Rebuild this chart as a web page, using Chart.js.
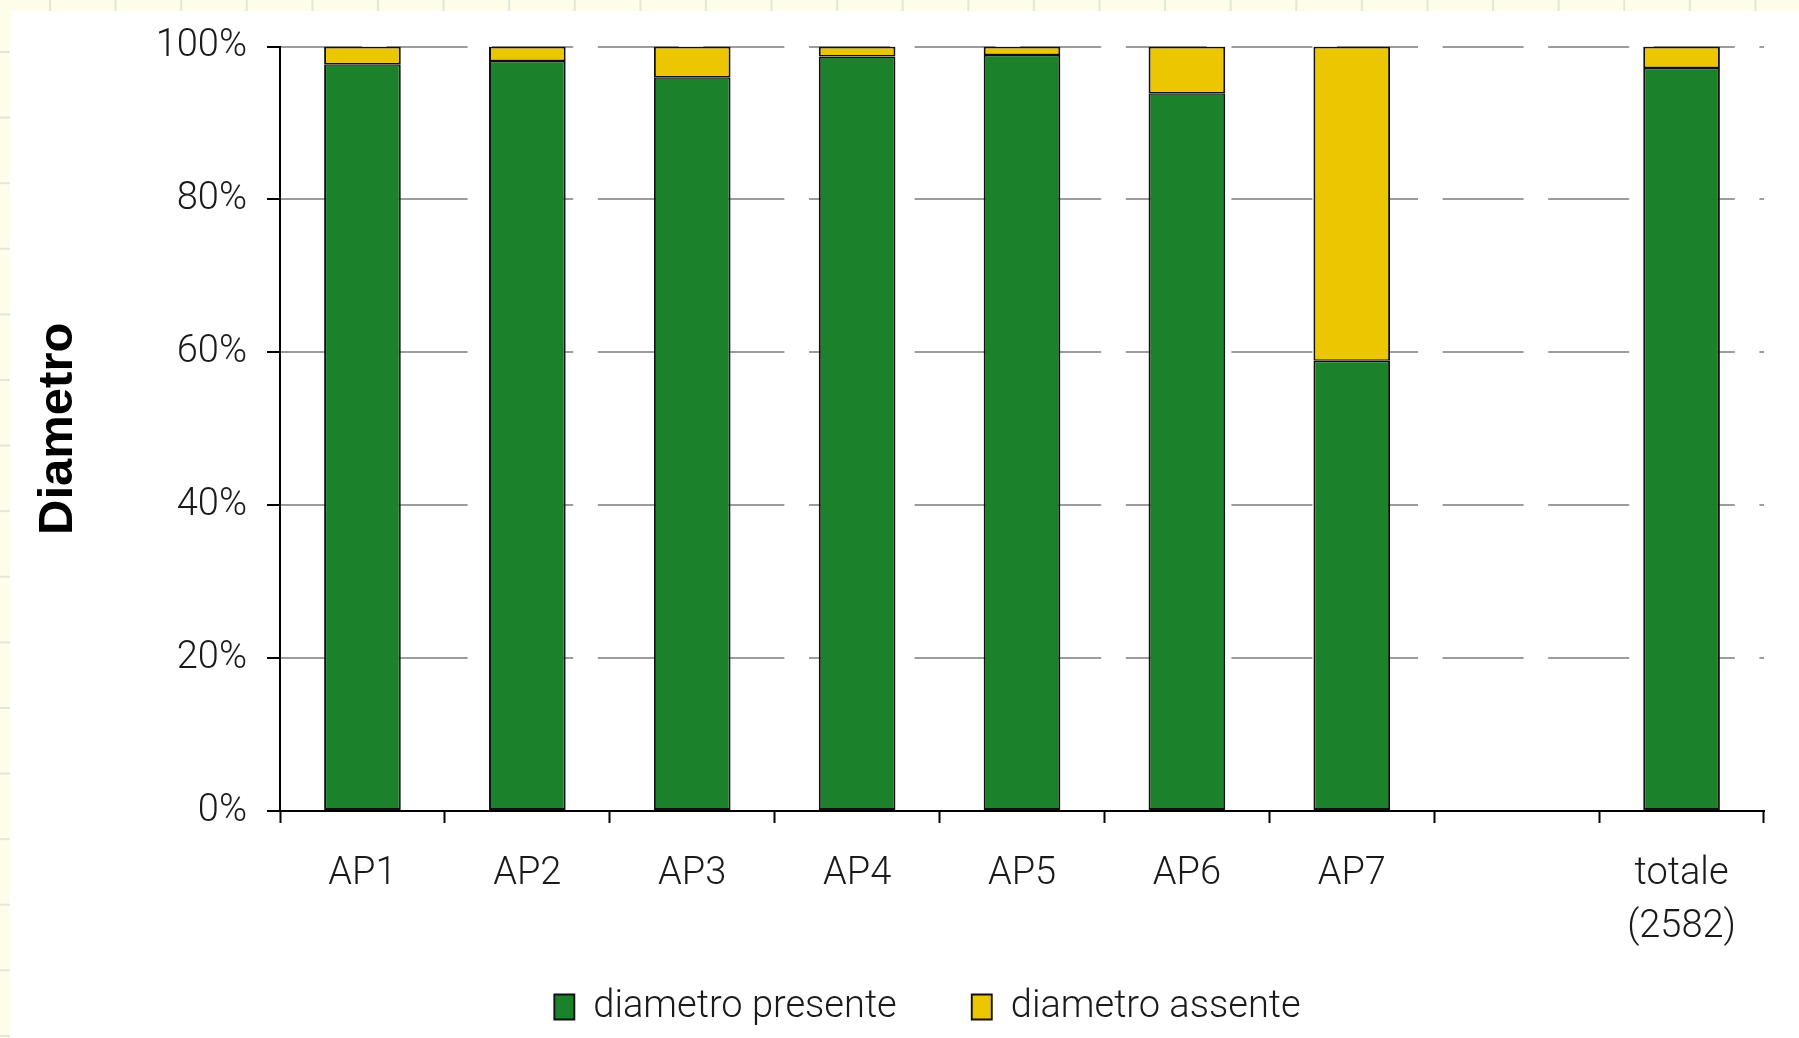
<!DOCTYPE html>
<html>
<head>
<meta charset="utf-8">
<script src="https://cdn.jsdelivr.net/npm/chart.js@4/dist/chart.umd.min.js"></script>
<style>
  html, body { margin: 0; padding: 0; }
  body {
    width: 1799px;
    height: 1038px;
    overflow: hidden;
    position: relative;
    background-color: #fdfde9;
    background-image:
      linear-gradient(to right, #e2e8d8 2px, transparent 2px),
      linear-gradient(to bottom, #e2e8d8 2px, transparent 2px);
    background-size: 65.6px 65.6px;
    background-position: 49px 51px;
  }
  #panel { position: absolute; left: 10px; top: 11px; right: 0; bottom: 0; background: #fff; }
  #chart { position: absolute; left: 0; top: 0; }
</style>
</head>
<body>
<div id="panel"></div>
<canvas id="chart" width="1799" height="1038"></canvas>
<script>
const categories = ["AP1", "AP2", "AP3", "AP4", "AP5", "AP6", "AP7", "", ["totale", "(2582)"]];
const presente = [97.7, 98.1, 96.0, 98.7, 98.9, 93.9, 58.9, null, 97.2];
const assente = [2.3, 1.9, 4.0, 1.3, 1.1, 6.1, 41.1, null, 2.8];
const seriesNames = ["diametro presente", "diametro assente"];
const axisTitle = "Diametro";

const tickFont = { family: "Roboto, 'Open Sans', sans-serif", size: 38, weight: 300, lineHeight: 1.4 };
const ink = "#1a1a1a";

// the x axis box is kept short so the legend sits close; let its labels
// spill below the box instead of being clipped
const labelRoom = {
  id: "labelRoom",
  afterLayout(chart) {
    const x = chart.scales.x;
    x.bottom = x.top + 160;
  },
};

new Chart(document.getElementById("chart"), {
  type: "bar",
  data: {
    labels: categories,
    datasets: [
      {
        label: seriesNames[0],
        data: presente,
        backgroundColor: "#1b822b",
        borderColor: "#111",
        borderWidth: { top: 1.5, bottom: 2, left: 2, right: 2 },
        borderSkipped: false,
      },
      {
        label: seriesNames[1],
        data: assente,
        backgroundColor: "#ecc600",
        borderColor: "#111",
        borderWidth: { top: 2, bottom: 1.5, left: 2, right: 2 },
        borderSkipped: false,
      },
    ],
  },
  plugins: [labelRoom],
  options: {
    responsive: false,
    animation: false,
    devicePixelRatio: 1,
    barPercentage: 0.465,
    categoryPercentage: 1,
    layout: { padding: { left: 91, right: 35, top: 45, bottom: 2 } },
    plugins: {
      tooltip: { enabled: false },
      legend: {
        position: "bottom",
        labels: {
          boxWidth: 20,
          boxHeight: 25,
          padding: 75,
          color: ink,
          font: tickFont,
        },
      },
    },
    scales: {
      x: {
        stacked: true,
        offset: true,
        grid: {
          offset: true,
          drawOnChartArea: false,
          tickLength: 12,
          tickColor: "#000",
          tickWidth: 2,
        },
        border: { color: "#000", width: 2 },
        ticks: { color: ink, font: tickFont, padding: 25, maxRotation: 0, autoSkip: false },
        afterFit: (scale) => { scale.height = 102; },
      },
      y: {
        stacked: true,
        min: 0,
        max: 100,
        grid: {
          color: "#9c9c9c",
          lineWidth: 2,
          tickLength: 13,
          tickColor: "#000",
          tickWidth: 2,
          tickBorderDash: [],
        },
        border: { color: "#000", width: 2, dash: [81, 24.6] },
        ticks: {
          stepSize: 20,
          color: ink,
          font: tickFont,
          padding: 20,
          callback: (v) => v + "%",
        },
        title: {
          display: true,
          text: axisTitle,
          color: "#000",
          font: { family: "'Liberation Sans', Arial, sans-serif", size: 49, weight: "bold" },
          padding: { top: -62, bottom: 0 },
        },
        afterFit: (scale) => { scale.width = 189; },
      },
    },
  },
});
</script>
</body>
</html>
